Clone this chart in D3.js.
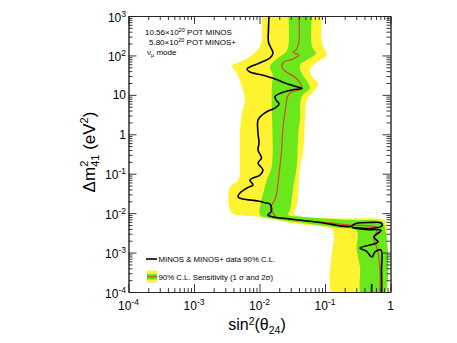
<!DOCTYPE html>
<html><head><meta charset="utf-8">
<script src="https://cdn.jsdelivr.net/npm/d3@7"></script>
<style>body{margin:0;background:#fff}svg{display:block}text{font-family:"Liberation Sans",Arial,Helvetica,sans-serif;fill:#000}</style>
</head><body><svg id="c" width="457" height="343"></svg>
<script>
// ---- data: [sin^2(theta24), dm^2_41 (eV^2)] ----
const yellowLeft = [[0.0109,1300],[0.0108,246],[0.00983,154],[0.00716,92.9],[0.00504,68.1],[0.0038,53.9],[0.00449,35.9],[0.0056,13.3],[0.0060,7.41],[0.0054,3.47],[0.00504,1.08],[0.00504,0.151],[0.00475,0.0693],[0.00355,0.046],[0.00334,0.0216],[0.00355,0.012],[0.00398,0.00952],[0.0102,0.0080],[0.0325,0.00553],[0.119,0.00413],[0.134,0.00353],[0.134,8e-5]];
const yellowRight = [[0.090,1300],[0.090,207],[0.106,102.6],[0.0839,76.6],[0.0663,57.2],[0.059,42.7],[0.0656,26.8],[0.079,19.6],[0.0704,13.3],[0.0531,7.41],[0.0495,2.30],[0.0466,0.40],[0.0415,0.151],[0.0391,0.0319],[0.0374,0.0161],[0.0336,0.0107],[0.0360,0.00847],[0.119,0.0074],[0.777,0.0069],[0.853,0.00597],[0.853,6.48e-4],[0.796,8e-5]];
const greenLeft = [[0.0275,1300],[0.0275,166],[0.0245,115],[0.01916,86.1],[0.0155,63.2],[0.01445,50.9],[0.01607,30.1],[0.0155,17.8],[0.01535,7.41],[0.01535,0.151],[0.01288,0.0693],[0.01143,0.0319],[0.0102,0.0146],[0.0102,0.00898],[0.01726,0.00711],[0.0328,0.00608],[0.190,0.00413],[0.305,0.00363],[0.305,1.16e-3],[0.342,4.39e-4],[0.367,8e-5]];
const greenRight = [[0.0633,1300],[0.0633,166],[0.0729,113],[0.0525,76.6],[0.0415,57.2],[0.0441,35.9],[0.0556,19.6],[0.059,14.7],[0.0441,8.98],[0.0415,2.30],[0.0391,1.08],[0.0370,0.151],[0.0328,0.0469],[0.0310,0.0216],[0.0292,0.012],[0.0275,0.00898],[0.0415,0.00823],[0.241,0.0067],[0.651,0.00644],[0.777,0.00563],[0.777,8e-5]];
const medianSens = [[0.0401,1000],[0.0394,195],[0.0360,137],[0.0325,118.7],[0.0401,102.6],[0.0325,81.2],[0.02366,68.1],[0.0218,53.9],[0.0245,40.3],[0.0360,26.8],[0.0415,20.0],[0.0441,14.7],[0.0292,11.15],[0.0263,8.33],[0.0254,5.53],[0.0245,3.68],[0.0233,2.05],[0.0224,0.96],[0.0218,0.40],[0.0206,0.166],[0.0194,0.0693],[0.0179,0.0272],[0.0161,0.0181],[0.0147,0.0135],[0.0161,0.0101],[0.0179,0.0080],[0.0360,0.0067],[0.100,0.0058],[0.241,0.0050],[0.486,0.00473],[0.622,0.00433],[0.622,0.00342],[0.550,0.00249],[0.601,0.00156],[0.656,8.7e-4],[0.692,3.62e-4],[0.692,1e-4]];
const dataContour = [[0.01396,1000],[0.0137,441],[0.0137,219],[0.01498,154],[0.01607,115],[0.01445,86.1],[0.01092,68.1],[0.00768,53.9],[0.00644,45.3],[0.00716,38.0],[0.01092,31.9],[0.01726,25.3],[0.02448,20.0],[0.0360,16.3],[0.0446,14.5],[0.0313,13.3],[0.0213,11.15],[0.01726,9.09],[0.01787,7.41],[0.01986,5.87],[0.01726,4.65],[0.01349,3.90],[0.01092,3.09],[0.00948,2.30],[0.00948,1.08],[0.00983,0.602],[0.00948,0.40],[0.01073,0.2506],[0.00948,0.187],[0.0113,0.1245],[0.0102,0.0929],[0.00716,0.0693],[0.00796,0.0518],[0.00644,0.0435],[0.00504,0.0324],[0.0047,0.0257],[0.0056,0.02286],[0.00948,0.0203],[0.01256,0.0181],[0.01445,0.01707],[0.01525,0.01352],[0.01498,0.0107],[0.01349,0.00898],[0.01607,0.0080],[0.02923,0.00711],[0.0839,0.0058],[0.241,0.00459],[0.297,0.00547],[0.486,0.0058],[0.716,0.00563],[0.741,0.00473],[0.486,0.00408],[0.258,0.00433],[0.408,0.00385],[0.716,0.00363],[0.560,0.00249],[0.644,0.00186],[0.342,0.00131],[0.423,0.0011],[0.522,7.72e-4],[0.580,1.035e-3],[0.716,1.16e-3],[0.729,3.62e-4],[0.735,1e-4]];
const dataSpike = [[0.516,1e-4],[0.516,1.6e-4]];
const xMajor = [1e-4,1e-3,1e-2,1e-1,1];
const yMajor = [1e-4,1e-3,1e-2,1e-1,1,10,100,1000];
const xTickExp = ["-4","-3","-2","-1",null];
const yTickLabels = [["10","-4"],["10","-3"],["10","-2"],["10","-1"],["1",null],["10",null],["10","2"],["10","3"]];
const annotation = [["10.56×10","20"," POT MINOS"],["5.80×10","20"," POT MINOS+"]];
const legendLabels = ["MINOS & MINOS+ data 90% C.L.","90% C.L. Sensitivity (1 σ and 2σ)"];

// ---- drawing ----
const W=457,H=343, L=128.5,R=390.5,T=16,B=292;
const YEL="#fff231", GRN="#6be81c", RED="#d5492a";
const x = d3.scaleLog().domain([1e-4,1]).range([L,R]);
const y = d3.scaleLog().domain([1e-4,1e3]).range([B,T]);
const svg = d3.select("#c");
svg.append("rect").attr("width",W).attr("height",H).attr("fill","#fff");
svg.append("defs").append("clipPath").attr("id","clip").append("rect").attr("x",L).attr("y",T).attr("width",R-L).attr("height",B-T);
const g = svg.append("g").attr("clip-path","url(#clip)");
const curve = d3.line().x(d=>x(d[0])).y(d=>y(d[1])).curve(d3.curveCatmullRom.alpha(0.5));
g.append("path").attr("d",curve(yellowLeft.concat(yellowRight.slice().reverse()))+"Z").attr("fill",YEL);
g.append("path").attr("d",curve(greenLeft.concat(greenRight.slice().reverse()))+"Z").attr("fill",GRN);
g.append("path").attr("d",curve(medianSens)).attr("fill","none").attr("stroke",RED).attr("stroke-width",1.2);
g.append("path").attr("d",curve(dataContour)).attr("fill","none").attr("stroke","#000").attr("stroke-width",1.6);
g.append("path").attr("d",d3.line().x(d=>x(d[0])).y(d=>y(d[1]))(dataSpike)).attr("fill","none").attr("stroke","#000").attr("stroke-width",1.6);

// ticks
function minors(lo,hi){const a=[];for(let e=lo;e<hi;e++)for(let k=2;k<=9;k++)a.push(k*Math.pow(10,e));return a;}
const xMinor=minors(-4,0), yMinor=minors(-4,3);
function ax(gen,scale,vals,len,tr){
  const a=svg.append("g").attr("transform",tr).call(gen(scale).tickValues(vals).tickSize(-len).tickSizeOuter(0).tickFormat(""));
  a.selectAll("path,line").attr("stroke","#222").attr("stroke-width",0.9);
  a.selectAll("text").remove();
}
ax(d3.axisBottom,x,xMajor,8,`translate(0,${B})`); ax(d3.axisBottom,x,xMinor,4,`translate(0,${B})`);
ax(d3.axisTop,x,xMajor,8,`translate(0,${T})`); ax(d3.axisTop,x,xMinor,4,`translate(0,${T})`);
ax(d3.axisLeft,y,yMajor,8,`translate(${L},0)`); ax(d3.axisLeft,y,yMinor,4,`translate(${L},0)`);
ax(d3.axisRight,y,yMajor,8,`translate(${R},0)`); ax(d3.axisRight,y,yMinor,4,`translate(${R},0)`);

// tick labels
xMajor.forEach((v,i)=>{
  const t=svg.append("text").attr("x",x(v)).attr("y",B+18).attr("text-anchor","middle").attr("font-size",12);
  t.append("tspan").text(xTickExp[i]===null?"1":"10");
  if(xTickExp[i]!==null) t.append("tspan").attr("dy",-5).attr("font-size",8.5).text(xTickExp[i]);
});
yMajor.forEach((v,i)=>{
  const [b,e]=yTickLabels[i];
  const t=svg.append("text").attr("x",126).attr("y",y(v)+(e?5.5:4.5)).attr("text-anchor","end").attr("font-size",12);
  t.append("tspan").text(b);
  if(e) t.append("tspan").attr("dy",-5).attr("font-size",8.5).text(e);
});

// axis titles
const xt=svg.append("text").attr("x",257).attr("y",329.5).attr("text-anchor","middle").attr("font-size",16);
xt.append("tspan").text("sin");
xt.append("tspan").attr("dy",-5).attr("font-size",10.5).text("2");
xt.append("tspan").attr("dy",5).text("(θ");
xt.append("tspan").attr("dy",4).attr("font-size",10.5).text("24");
xt.append("tspan").attr("dy",-4).text(")");
const yt=svg.append("text").attr("transform","translate(95,152) rotate(-90)").attr("text-anchor","middle").attr("font-size",17);
yt.append("tspan").text("Δm");
yt.append("tspan").attr("dy",-7).attr("font-size",11).text("2");
yt.append("tspan").attr("dx",-6.1).attr("dy",11).attr("font-size",11).text("41");
yt.append("tspan").attr("dy",-4).text(" (eV");
yt.append("tspan").attr("dy",-7).attr("font-size",11).text("2");
yt.append("tspan").attr("dy",7).text(")");

// annotation
annotation.forEach((a,i)=>{
  const t=svg.append("text").attr("x",i?149:145).attr("y",35+i*10).attr("font-size",8);
  t.append("tspan").text(a[0]);
  t.append("tspan").attr("dy",-3).attr("font-size",5.6).text(a[1]);
  t.append("tspan").attr("dy",3).text(a[2]);
});
const nu=svg.append("text").attr("x",147).attr("y",55).attr("font-size",8);
nu.append("tspan").text("ν");
nu.append("tspan").attr("dy",2).attr("font-size",5.6).text("μ");
nu.append("tspan").attr("dy",-2).text(" mode");

// legend
svg.append("line").attr("x1",146).attr("x2",157).attr("y1",259).attr("y2",259).attr("stroke","#000").attr("stroke-width",1.6);
svg.append("text").attr("x",158.5).attr("y",262).attr("font-size",7.8).text(legendLabels[0]);
svg.append("rect").attr("x",147).attr("y",270.5).attr("width",10).attr("height",12).attr("fill",YEL);
svg.append("rect").attr("x",147).attr("y",274).attr("width",10).attr("height",5.5).attr("fill",GRN);
svg.append("line").attr("x1",147).attr("x2",157).attr("y1",276.8).attr("y2",276.8).attr("stroke",RED).attr("stroke-width",1.2);
svg.append("text").attr("x",158.5).attr("y",280).attr("font-size",7.8).text(legendLabels[1]);
</script></body></html>
